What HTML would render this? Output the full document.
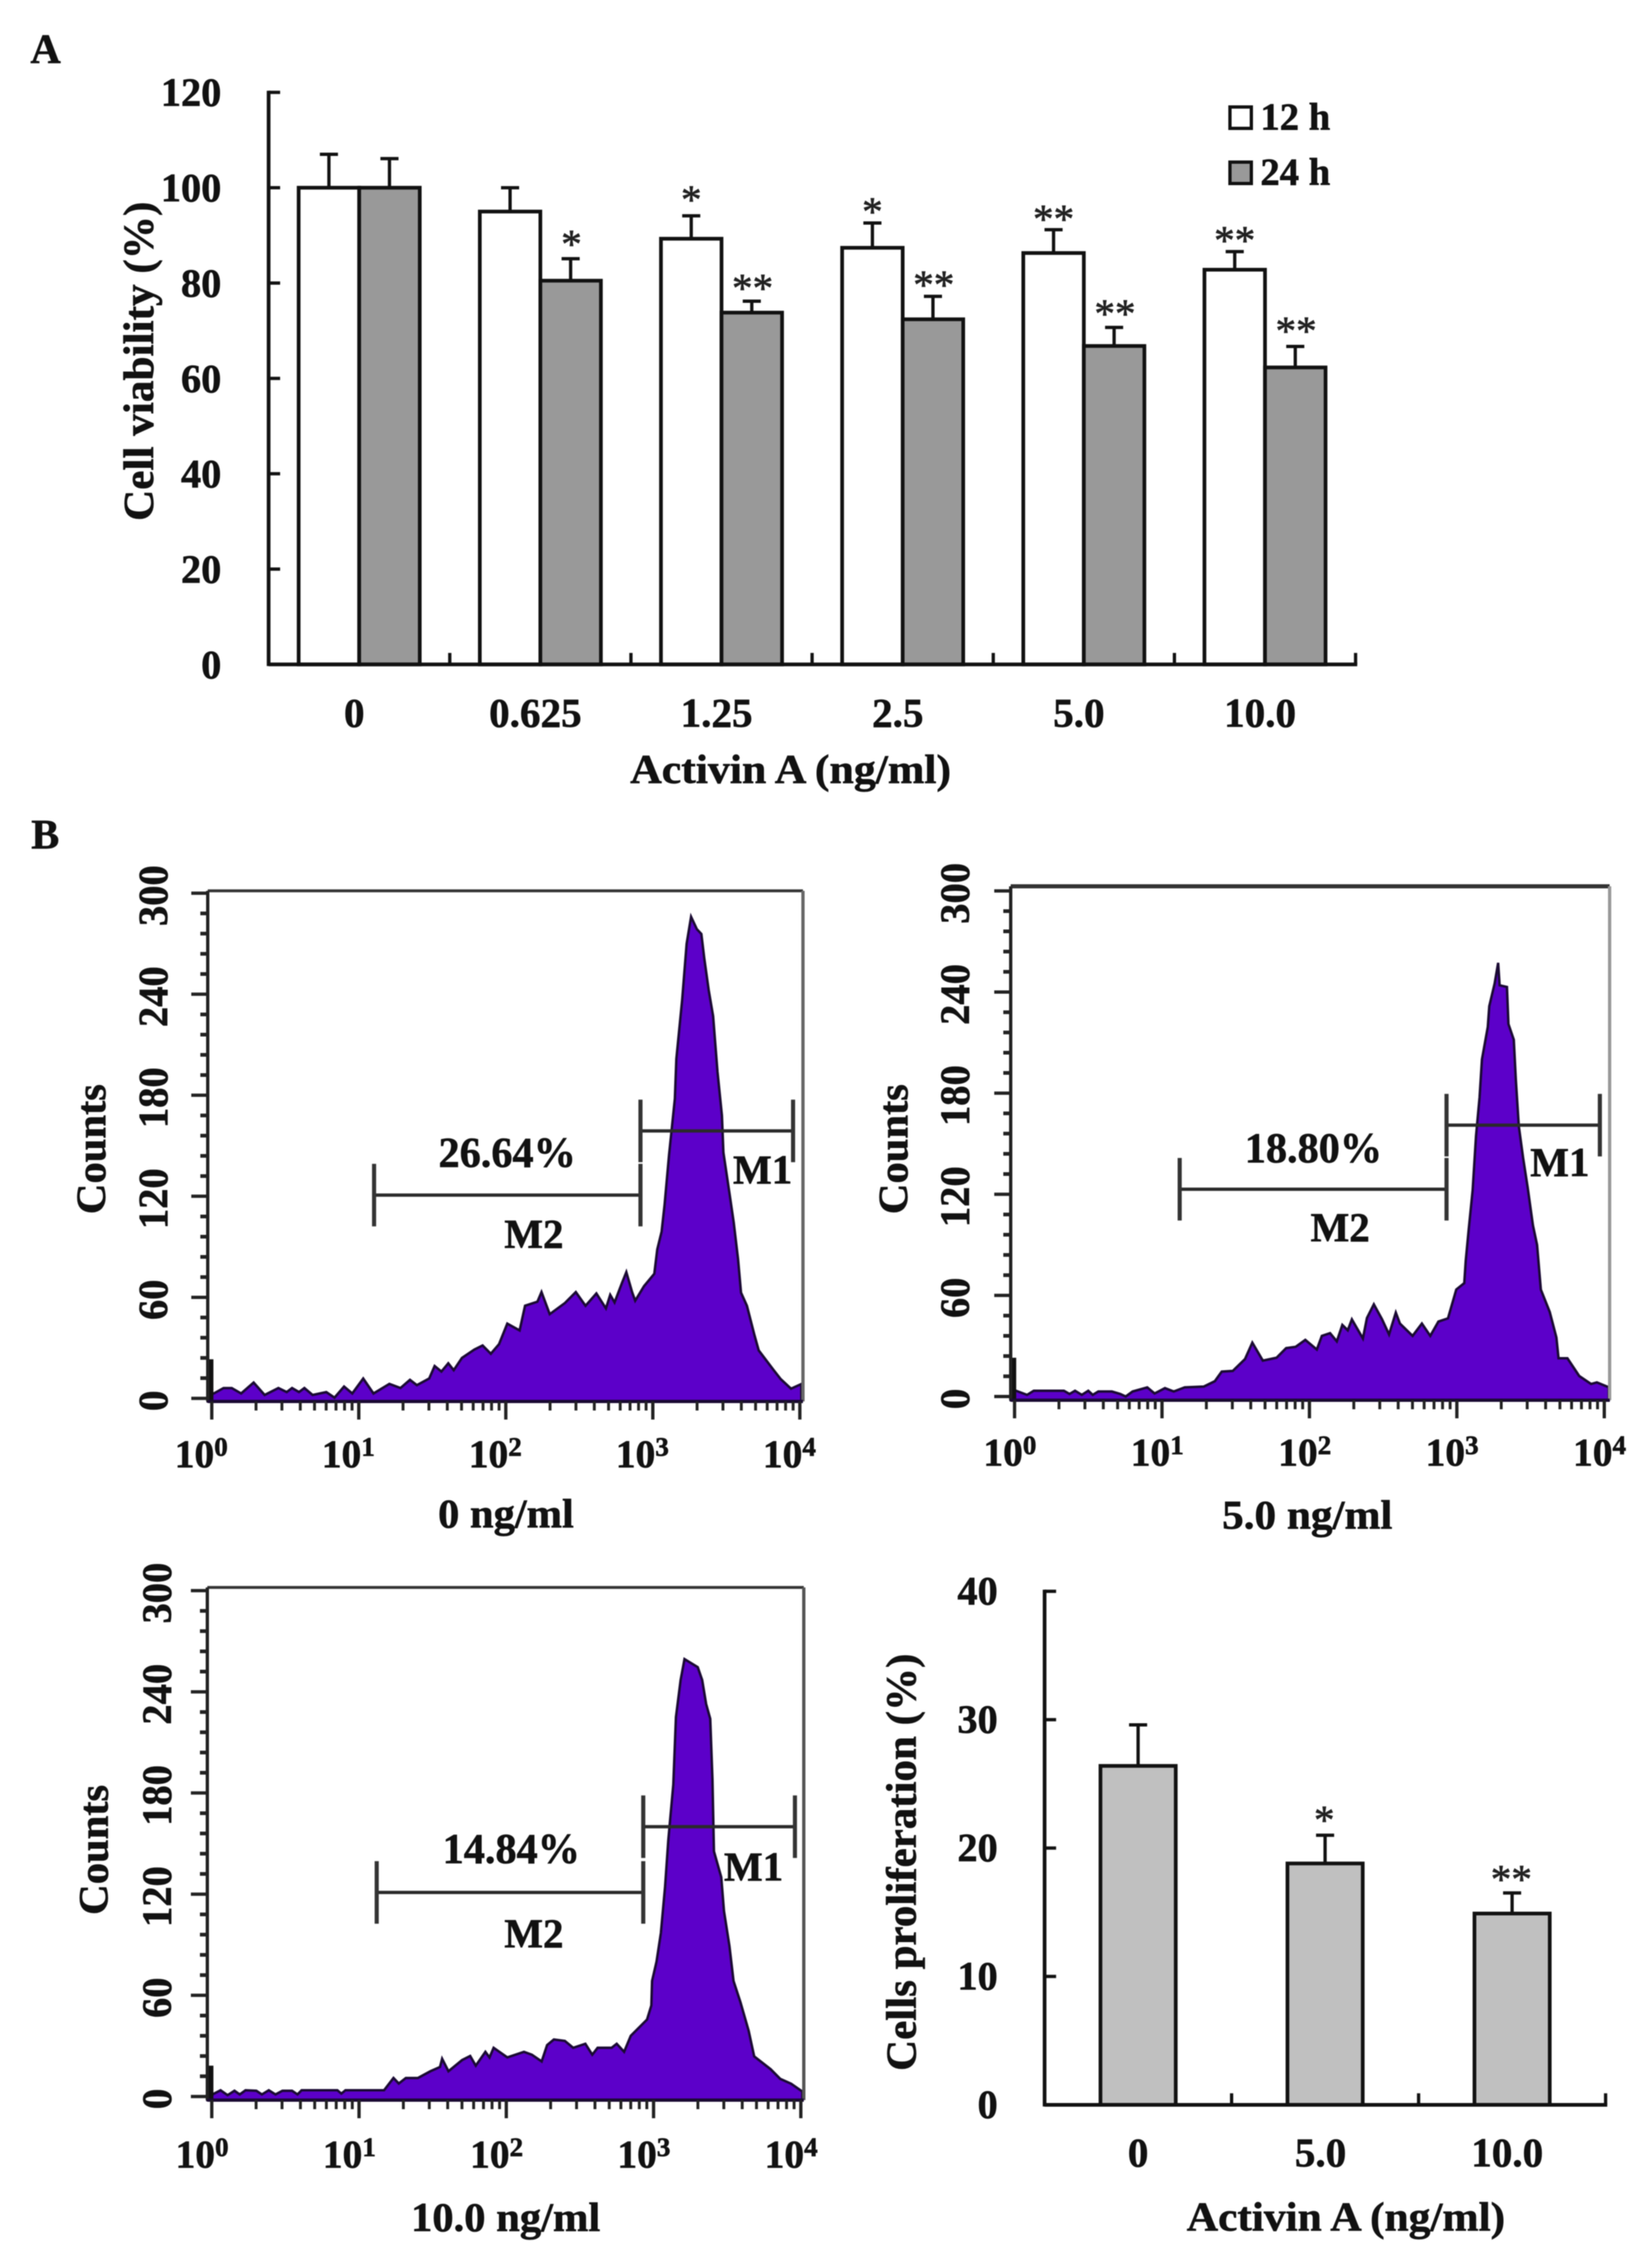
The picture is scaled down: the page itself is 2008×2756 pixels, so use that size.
<!DOCTYPE html>
<html lang="en">
<head>
<meta charset="utf-8">
<title>Activin A cell viability and proliferation</title>
<style>
html,body{margin:0;padding:0;background:#fff;}
svg{display:block;filter:blur(0.6px);}
text{font-family:"Liberation Serif",serif;font-weight:bold;fill:#111;stroke:#111;stroke-width:.7px;}
</style>
</head>
<body>
<svg id="figure" xmlns="http://www.w3.org/2000/svg" width="2008" height="2756" viewBox="0 0 2008 2756"></svg>
<script>
// ---------- Panel A data ----------
const viabilityCategories = ['0', '0.625', '1.25', '2.5', '5.0', '10.0'];
const viability12h = [100, 95, 89.3, 87.4, 86.3, 82.8];
const viability12hUpper = [107, 100, 94.1, 92.6, 91.2, 86.6];
const viability24h = [100, 80.5, 73.8, 72.4, 66.8, 62.3];
const viability24hUpper = [106.1, 85.1, 76.2, 77.2, 70.7, 66.7];
const viability12hStars = ['', '', '*', '*', '**', '**'];
const viability24hStars = ['', '*', '**', '**', '**', '**'];
const viabilityTicks = [0, 20, 40, 60, 80, 100, 120];

// ---------- Panel B histogram data ----------
const countTicks = [0, 60, 120, 180, 240, 300];
const decadeTicks = [0, 1, 2, 3, 4];

const hist0LogX = [0, .014, .08, .136, .2, .285, .36, .453, .51, .546, .593, .63, .686, .779, .835, .9, .956, 1.03, 1.1, 1.208, 1.283, 1.348, 1.395, 1.479, 1.516, 1.562, 1.609, 1.646, 1.702, 1.786, 1.842, 1.898, 1.954, 2.01, 2.094, 2.131, 2.215, 2.243, 2.299, 2.402, 2.476, 2.542, 2.616, 2.681, 2.71, 2.74, 2.79, 2.82, 2.86, 2.88, 2.94, 3.01, 3.03, 3.06, 3.08, 3.11, 3.15, 3.16, 3.2, 3.23, 3.26, 3.3, 3.33, 3.35, 3.38, 3.41, 3.44, 3.47, 3.48, 3.52, 3.55, 3.58, 3.6, 3.64, 3.69, 3.72, 3.82, 3.87, 3.94, 4.01];
const hist0Counts = [23.2, 2.9, 6.1, 6.1, 2.9, 9.4, 2, 6.1, 3.7, 6.1, 3.7, 6.1, 2, 3.7, .4, 7, 2.9, 11.8, 2.9, 8.6, 6.1, 11, 7.8, 11.8, 19.2, 15.9, 20.8, 16.7, 24, 29, 31.4, 26.5, 32.2, 44.4, 40.3, 55, 57.4, 63.1, 50, 56.6, 63.1, 55, 62.3, 53.4, 61.5, 57, 68.5, 75, 62.8, 58, 66.6, 74, 88.4, 99, 115, 144.5, 178, 201.6, 236.8, 270, 286, 278.6, 275.8, 261.5, 242.5, 227, 194, 168, 146, 122.7, 104.6, 82.7, 62.8, 55, 38, 28.5, 17, 11.4, 5.7, 8.5];

const hist5LogX = [0, .01, .085, .13, .335, .373, .41, .456, .5, .53, .568, .66, .717, .754, .8, .9, .95, 1.02, 1.08, 1.154, 1.284, 1.358, 1.405, 1.48, 1.563, 1.613, 1.684, 1.777, 1.842, 1.907, 1.972, 2.05, 2.084, 2.14, 2.186, 2.223, 2.26, 2.288, 2.363, 2.39, 2.437, 2.493, 2.54, 2.586, 2.614, 2.7, 2.763, 2.82, 2.875, 2.94, 2.996, 3.05, 3.06, 3.08, 3.107, 3.13, 3.154, 3.17, 3.21, 3.22, 3.256, 3.28, 3.29, 3.34, 3.35, 3.386, 3.4, 3.42, 3.45, 3.48, 3.516, 3.544, 3.57, 3.63, 3.675, 3.69, 3.75, 3.83, 3.91, 3.95, 4.03];
const hist5Counts = [23, 3.4, 1, 3.4, 3.4, 1.5, 3.4, 1, 3.4, 1, 3, 3, 1.5, 0, 3, 5.4, 1.8, 5, 3, 5.4, 5.9, 9.1, 14.8, 15.2, 22.2, 32, 21.3, 23, 28.7, 29.5, 33.6, 27.9, 36, 37.6, 32.7, 42.5, 39.3, 45.8, 34.4, 46.6, 54.7, 45.8, 36.8, 49.8, 43.3, 36, 43.3, 36, 44.5, 46.4, 63.5, 67.3, 80.6, 98.6, 122.4, 154.7, 177.5, 200, 219.3, 231.6, 245, 257.3, 244, 243, 221, 211.7, 188, 160.4, 141.4, 124.3, 101.5, 90, 63.5, 50.2, 35, 22.7, 22.7, 12.2, 7.4, 8.4, 5.5];

const hist10LogX = [0, .005, .06, .107, .154, .19, .229, .303, .34, .387, .433, .48, .545, .582, .61, .853, .88, .908, 1.17, 1.234, 1.27, 1.318, 1.4, 1.485, 1.55, 1.564, 1.607, 1.7, 1.755, 1.793, 1.858, 1.886, 1.914, 2.007, 2.12, 2.174, 2.24, 2.277, 2.323, 2.398, 2.454, 2.537, 2.584, 2.62, 2.715, 2.75, 2.8, 2.845, 2.956, 2.985, 2.99, 3.02, 3.05, 3.078, 3.1, 3.134, 3.152, 3.184, 3.21, 3.3, 3.33, 3.357, 3.385, 3.4, 3.41, 3.46, 3.478, 3.515, 3.543, 3.59, 3.646, 3.683, 3.795, 3.86, 3.934, 4.01];
const hist10Counts = [18.3, 1.2, 3.7, .8, 3.4, 1.2, 3.7, 3.4, 1.2, 3.7, 1.2, 3.4, 3.4, 1.2, 3.7, 3.7, 1.7, 3.7, 3.7, 11, 7.7, 11, 11, 15, 17.5, 22.4, 15, 21.6, 24, 18.3, 26.5, 23.2, 28.9, 23.2, 26.5, 24.8, 20.8, 30.5, 33.8, 33, 28.9, 31.3, 24.8, 28.9, 28.9, 31.3, 26.5, 36, 45.7, 54, 68.5, 80, 97, 124.5, 152, 185, 225, 247, 259.4, 254.6, 247, 232.8, 224, 188, 145.4, 130, 110, 89.4, 68.5, 56, 39, 23.8, 16.2, 10.5, 7.6, 3];

const hist0Gates = [1.104, 2.916, 3.954];
const hist5Gates = [1.12, 2.93, 3.97];
const hist10Gates = [1.12, 2.93, 3.96];
const hist0GateCounts = [120.7, 158.8];
const hist5GateCounts = [123, 161];
const hist10GateCounts = [121, 160];

// ---------- Panel B proliferation data ----------
const prolifCategories = ['0', '5.0', '10.0'];
const prolifValues = [26.4, 18.8, 14.9];
const prolifUpper = [29.6, 21, 16.5];
const prolifStars = ['', '*', '**'];
const prolifTicks = [0, 10, 20, 30, 40];

// ---------- helpers ----------
const NS = 'http://www.w3.org/2000/svg';
const root = document.getElementById('figure');
function mk(parent, tag, attrs, content) {
  const e = document.createElementNS(NS, tag);
  for (const k in attrs) e.setAttribute(k, attrs[k]);
  if (content !== undefined) e.textContent = content;
  parent.appendChild(e);
  return e;
}
function line(parent, x1, y1, x2, y2, color, width) {
  return mk(parent, 'line', {x1: x1, y1: y1, x2: x2, y2: y2, stroke: color, 'stroke-width': width, 'stroke-linecap': 'butt'});
}
const starStyle = 'font-weight:normal;fill:#222;stroke:#222;stroke-width:.8px';

// ---------- static labels ----------
const panelA = mk(root, 'text', {x: 37, y: 76.5, 'font-size': 51});
panelA.textContent = 'A';


const panelB = mk(root, 'text', {x: 38, y: 1031, 'font-size': 51});
panelB.textContent = 'B';



// ---------- Panel A chart ----------
const gA = mk(root, 'g', {});


const aLeft = 326.5, aBand = 220.2, aBarW = 73.6;
const aY = v => 807.4 - v * 5.793;
const aCenter = i => aLeft + aBand * (i + 0.5);
const aStarGap12h = [0, 0, 25, 19, 18, 18.5];
const aStarGap24h = [0, 23, 21, 19, 22, 24];

viabilityCategories.forEach((cat, i) => {
  const c = aCenter(i);
  const cap1 = line(gA, c - aBarW / 2, aY(viability12hUpper[i]), c - aBarW / 2, aY(viability12h[i]), '#111', 4);
  
  
  const capTop1 = line(gA, c - aBarW / 2 - 11, aY(viability12hUpper[i]), c - aBarW / 2 + 11, aY(viability12hUpper[i]), '#111', 4);
  
  
  const cap2 = line(gA, c + aBarW / 2, aY(viability24hUpper[i]), c + aBarW / 2, aY(viability24h[i]), '#111', 4);
  
  
  const capTop2 = line(gA, c + aBarW / 2 - 11, aY(viability24hUpper[i]), c + aBarW / 2 + 11, aY(viability24hUpper[i]), '#111', 4);
  
  
  const b1 = mk(gA, 'rect', {x: c - aBarW, y: aY(viability12h[i]), width: aBarW, height: aY(0) - aY(viability12h[i]), fill: '#fff', stroke: '#111', 'stroke-width': 4.5});
  
  
  const b2 = mk(gA, 'rect', {x: c, y: aY(viability24h[i]), width: aBarW, height: aY(0) - aY(viability24h[i]), fill: '#999', stroke: '#111', 'stroke-width': 4.5});
  
  
  const s1 = mk(gA, 'text', {x: c - aBarW / 2, y: aY(viability12hUpper[i]) - aStarGap12h[i] + 21.5, 'font-size': 50, 'text-anchor': 'middle', style: starStyle}, viability12hStars[i]);
  
  
  const s2 = mk(gA, 'text', {x: c + aBarW / 2 + 1, y: aY(viability24hUpper[i]) - aStarGap24h[i] + 21.5, 'font-size': 50, 'text-anchor': 'middle', style: starStyle}, viability24hStars[i]);
  
  
  const lab = mk(gA, 'text', {x: c - 6, y: 883, 'font-size': 50, 'text-anchor': 'middle'}, cat);
  
  
  const tk = line(gA, aLeft + aBand * (i + 1), aY(0), aLeft + aBand * (i + 1), aY(0) - 14, '#111', 4);
  
  
});
const aYAxis = line(gA, aLeft, aY(120) - 2, aLeft, aY(0) + 2, '#111', 4.5);


const aXAxis = line(gA, aLeft, aY(0), aLeft + aBand * viabilityCategories.length + 2, aY(0), '#111', 4.5);


viabilityTicks.forEach(t => {
  const tk = line(gA, aLeft, aY(t), aLeft + 14, aY(t), '#111', 4);
  
  
  const lab = mk(gA, 'text', {x: 269, y: aY(t) + 16.5, 'font-size': 49, 'text-anchor': 'end'}, String(t));
  
  
});
const aYTitle = mk(gA, 'text', {transform: 'translate(186 439) rotate(-90)', 'font-size': 52, 'text-anchor': 'middle', textLength: 388, lengthAdjust: 'spacingAndGlyphs'}, 'Cell viability (%)');


const aXTitle = mk(gA, 'text', {x: 961, y: 951.5, 'font-size': 50, 'text-anchor': 'middle', textLength: 390, lengthAdjust: 'spacingAndGlyphs'}, 'Activin A (ng/ml)');



// legend
const legendWhite = mk(gA, 'rect', {x: 1495, y: 130, width: 26, height: 26, fill: '#fff', stroke: '#111', 'stroke-width': 4});


const legendText1 = mk(gA, 'text', {x: 1532, y: 157.5, 'font-size': 47}, '12 h');


const legendGray = mk(gA, 'rect', {x: 1495, y: 197, width: 26, height: 26, fill: '#999', stroke: '#111', 'stroke-width': 4});


const legendText2 = mk(gA, 'text', {x: 1532, y: 224.5, 'font-size': 47}, '24 h');



// ---------- Histogram drawing ----------
function drawHistogram(name, logX, counts, gates, gateCounts, layout) {
  const g = mk(root, 'g', {});
  
  
  const X = v => layout.x0 + v * layout.decade;
  const Y = v => layout.y0 - v * layout.perCount;

  // filled distribution
  let d = 'M' + layout.left + ' ' + layout.bottom + ' L' + layout.left + ' ' + Y(counts[1]).toFixed(1);
  logX.forEach((lx, i) => {
    if (i > 0) d += ' L' + X(lx).toFixed(1) + ' ' + Y(counts[i]).toFixed(1);
  });
  d += ' L' + X(logX[logX.length - 1]) + ' ' + layout.bottom + ' Z';
  const area = mk(g, 'path', {d: d, fill: '#5c00c9', stroke: '#1a0a33', 'stroke-width': 3, 'stroke-linejoin': 'miter'});
  
  
  const spike = line(g, X(logX[0]) - 1, Y(counts[0]), X(logX[0]) - 1, layout.bottom, '#111', 6);
  
  

  // frame
  const top = line(g, layout.left, layout.top, layout.right, layout.top, '#333', layout.topWidth);
  
  
  const rightEdge = line(g, layout.right, layout.top, layout.right, layout.bottom, layout.rightColor, 4);
  
  
  const leftEdge = line(g, layout.left, layout.top, layout.left, layout.bottom, '#222', 4);
  
  
  const bottomEdge = line(g, layout.left, layout.bottom, layout.right, layout.bottom, '#1a0a33', 4);
  
  

  // y ticks
  for (let c = 0; c <= 300; c += 12) {
    const major = c % 60 === 0;
    const tk = line(g, layout.left - (major ? 20 : 9), Y(c), layout.left, Y(c), '#222', major ? 4 : 4.5);
    
    
  }
  countTicks.forEach(t => {
    const lab = mk(g, 'text', {transform: 'translate(' + layout.yLabelX + ' ' + (Y(t) + 3) + ') rotate(-90)', 'font-size': 51, 'text-anchor': 'middle', textLength: t === 0 ? 25 : (t < 100 ? 49 : 74), lengthAdjust: 'spacingAndGlyphs'}, String(t));
    
    
  });
  const yTitle = mk(g, 'text', {transform: 'translate(' + layout.yTitleX + ' ' + layout.yTitleY + ') rotate(-90)', 'font-size': 51, 'text-anchor': 'middle', textLength: 158, lengthAdjust: 'spacingAndGlyphs'}, 'Counts');
  
  

  // x ticks
  decadeTicks.forEach(dec => {
    const tk = line(g, X(dec), layout.bottom, X(dec), layout.bottom + 22, '#222', 4);
    
    
    if (dec < 4) {
      for (let m = 2; m <= 9; m++) {
        const mt = line(g, X(dec + Math.log10(m)), layout.bottom, X(dec + Math.log10(m)), layout.bottom + 11, '#222', 3.5);
        
        
      }
    }
    const lab = mk(g, 'text', {x: X(dec) + layout.labelShift, y: layout.xLabelY, 'font-size': 48}, '10');
    
    
    const sup = mk(g, 'text', {x: X(dec) + layout.labelShift + 48, y: layout.xLabelY - 14, 'font-size': 33}, String(dec));
    
    
  });
  const sub = mk(g, 'text', {x: layout.subX, y: layout.subY, 'font-size': 50, 'text-anchor': 'middle', textLength: layout.subW, lengthAdjust: 'spacingAndGlyphs'}, layout.sub);
  
  

  // gates
  const m2 = line(g, X(gates[0]), Y(gateCounts[0]), X(gates[1]), Y(gateCounts[0]), '#2a2a2a', 4);
  
  
  const m2a = line(g, X(gates[0]), Y(gateCounts[0]) - 38, X(gates[0]), Y(gateCounts[0]) + 38, '#333', 5);
  
  
  const m2b = line(g, X(gates[1]), Y(gateCounts[0]) - 38, X(gates[1]), Y(gateCounts[0]) + 38, '#333', 5);
  
  
  const m1 = line(g, X(gates[1]), Y(gateCounts[1]), X(gates[2]), Y(gateCounts[1]), '#2a2a2a', 4);
  
  
  const m1a = line(g, X(gates[1]), Y(gateCounts[1]) - 38, X(gates[1]), Y(gateCounts[1]) + 38, '#333', 5);
  
  
  const m1b = line(g, X(gates[2]), Y(gateCounts[1]) - 38, X(gates[2]), Y(gateCounts[1]) + 38, '#333', 5);
  
  

  const pct = mk(g, 'text', {x: layout.pctX, y: layout.pctY, 'font-size': 52, textLength: 167, lengthAdjust: 'spacingAndGlyphs'}, layout.pct);
  
  
  const m2t = mk(g, 'text', {x: layout.m2X, y: layout.m2Y, 'font-size': 50, textLength: 72, lengthAdjust: 'spacingAndGlyphs'}, 'M2');
  
  
  const m1t = mk(g, 'text', {x: layout.m1X, y: layout.m1Y, 'font-size': 50, textLength: 72, lengthAdjust: 'spacingAndGlyphs'}, 'M1');
  
  
}

drawHistogram('histogram-0-ng-ml', hist0LogX, hist0Counts, hist0Gates, hist0GateCounts, {
  x0: 257.4, decade: 178.7, y0: 1699.2, perCount: 2.046, bottom: 1703, top: 1082.5, left: 252.5, right: 976, topWidth: 3.5, rightColor: '#666',
  yLabelX: 203.6, yTitleX: 128, yTitleY: 1396.5, labelShift: -45, xLabelY: 1783, sub: '0 ng/ml', subX: 615, subY: 1856, subW: 165,
  pct: '26.64%', pctX: 533, pctY: 1418, m2X: 613, m2Y: 1516, m1X: 891, m1Y: 1438
});
drawHistogram('histogram-5-ng-ml', hist5LogX, hist5Counts, hist5Gates, hist5GateCounts, {
  x0: 1233.2, decade: 179.2, y0: 1697, perCount: 2.048, bottom: 1701.5, top: 1077, left: 1228.5, right: 1956.5, topWidth: 5, rightColor: '#999',
  yLabelX: 1178, yTitleX: 1103, yTitleY: 1396.5, labelShift: -38, xLabelY: 1781, sub: '5.0 ng/ml', subX: 1589, subY: 1857.5, subW: 207,
  pct: '18.80%', pctX: 1513, pctY: 1412.5, m2X: 1593, m2Y: 1508, m1X: 1860, m1Y: 1429
});
drawHistogram('histogram-10-ng-ml', hist10LogX, hist10Counts, hist10Gates, hist10GateCounts, {
  x0: 257.4, decade: 179, y0: 2547.6, perCount: 2.049, bottom: 2552, top: 1929, left: 252, right: 977, topWidth: 3.5, rightColor: '#555',
  yLabelX: 208, yTitleX: 131, yTitleY: 2248, labelShift: -44, xLabelY: 2634, sub: '10.0 ng/ml', subX: 614.6, subY: 2711, subW: 230,
  pct: '14.84%', pctX: 538, pctY: 2264, m2X: 613, m2Y: 2366, m1X: 880, m1Y: 2285
});

// ---------- Proliferation chart ----------
const gC = mk(root, 'g', {});


const cLeft = 1269.7, cBand = 227.3, cBarW = 91.5;
const cY = v => 2557.7 - v * 15.6;
const cCenter = i => cLeft + cBand * (i + 0.5);
const cLabelShift = [0, -5.5, -6];
const cStarGap = [0, 23.5, 21.8];
prolifCategories.forEach((cat, i) => {
  const c = cCenter(i);
  const err = line(gC, c, cY(prolifUpper[i]), c, cY(prolifValues[i]), '#111', 4);
  
  
  const cap = line(gC, c - 11, cY(prolifUpper[i]), c + 11, cY(prolifUpper[i]), '#111', 4);
  
  
  const bar = mk(gC, 'rect', {x: c - cBarW / 2, y: cY(prolifValues[i]), width: cBarW, height: cY(0) - cY(prolifValues[i]), fill: '#c0c0c0', stroke: '#111', 'stroke-width': 4.5});
  
  
  const star = mk(gC, 'text', {x: c - 1, y: cY(prolifUpper[i]) - cStarGap[i] + 21.5, 'font-size': 50, 'text-anchor': 'middle', style: starStyle}, prolifStars[i]);
  
  
  const lab = mk(gC, 'text', {x: c + cLabelShift[i], y: 2632.5, 'font-size': 50, 'text-anchor': 'middle'}, cat);
  
  
  const tk = line(gC, cLeft + cBand * (i + 1), cY(0), cLeft + cBand * (i + 1), cY(0) - 14, '#111', 4);
  
  
});
const cYAxis = line(gC, cLeft, cY(40) - 2, cLeft, cY(0) + 2, '#111', 4.5);


const cXAxis = line(gC, cLeft, cY(0), cLeft + cBand * prolifCategories.length + 2, cY(0), '#111', 4.5);


prolifTicks.forEach(t => {
  const tk = line(gC, cLeft, cY(t), cLeft + 14, cY(t), '#111', 4);
  
  
  const lab = mk(gC, 'text', {x: 1212.7, y: cY(t) + 15.7, 'font-size': 49, 'text-anchor': 'end'}, String(t));
  
  
});
const cYTitle = mk(gC, 'text', {transform: 'translate(1113 2263) rotate(-90)', 'font-size': 52, 'text-anchor': 'middle', textLength: 507, lengthAdjust: 'spacingAndGlyphs'}, 'Cells proliferation (%)');


const cXTitle = mk(gC, 'text', {x: 1636, y: 2710.7, 'font-size': 50, 'text-anchor': 'middle', textLength: 387, lengthAdjust: 'spacingAndGlyphs'}, 'Activin A (ng/ml)');


</script>
</body>
</html>
